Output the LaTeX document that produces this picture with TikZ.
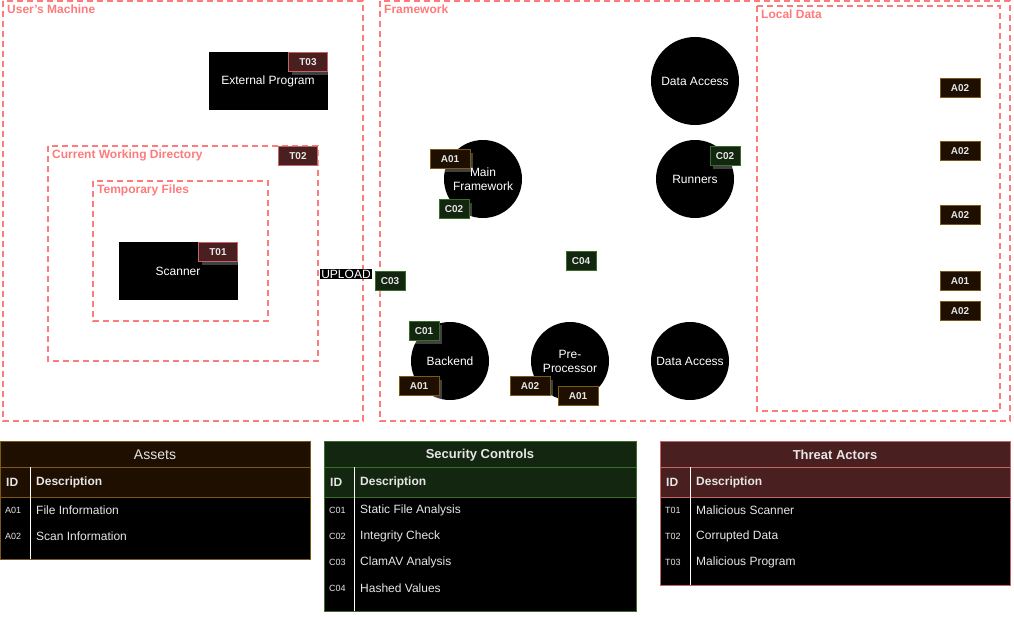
\documentclass[tikz,border=0pt]{standalone}
\usepackage{fontspec}
\setmainfont{Liberation Sans}
\usetikzlibrary{shadows}
\definecolor{zonered}{HTML}{FF7A7A}
\definecolor{assetfill}{HTML}{1E0F00}
\definecolor{assetline}{HTML}{7A5A14}
\definecolor{ctrlfill}{HTML}{13260F}
\definecolor{ctrlline}{HTML}{3A6E28}
\definecolor{threatfill}{HTML}{4A1F1F}
\definecolor{threatline}{HTML}{C46464}
\definecolor{lighttext}{HTML}{E6E6E6}
\begin{document}
\begin{tikzpicture}[x=1pt,y=-1pt,
	zone/.style={draw=zonered,line width=1.6pt,dash pattern=on 6pt off 4pt},
	zone_label/.style={anchor=north west,text=zonered,inner sep=0pt,font=\bfseries\fontsize{12}{14}\selectfont},
	proc_box/.style={rectangle,fill=black,text=white,minimum width=119pt,minimum height=58pt,inner sep=0pt,font=\fontsize{12}{14}\selectfont},
	proc_node/.style={circle,fill=black,text=white,minimum size=78pt,inner sep=0pt,align=center,font=\fontsize{12}{14}\selectfont},
	tag/.style={rectangle,line width=1pt,text=lighttext,minimum height=19pt,inner sep=0pt,font=\bfseries\fontsize{10}{12}\selectfont,drop shadow={fill=white,opacity=0.25,shadow xshift=3pt,shadow yshift=-3pt}},
	asset_tag/.style={tag,fill=assetfill,draw=assetline,minimum width=40pt},
	ctrl_tag/.style={tag,fill=ctrlfill,draw=ctrlline,minimum width=30pt},
	threat_tag/.style={tag,fill=threatfill,draw=threatline,minimum width=39pt},
	tbl_head/.style={text=lighttext,font=\fontsize{14}{16}\selectfont},
	tbl_col/.style={anchor=west,text=lighttext,inner sep=0pt,font=\bfseries\fontsize{12}{14}\selectfont},
	tbl_id/.style={anchor=west,text=lighttext,inner sep=0pt,font=\fontsize{9}{11}\selectfont},
	tbl_desc/.style={anchor=west,text=lighttext,inner sep=0pt,font=\fontsize{12}{14}\selectfont}]
	\useasboundingbox (0,0) rectangle (1014,616);

	% zones
	\draw[zone] (3,1) rectangle (363,421);
	\node[zone_label] (users_machine) at (7,5) {User's Machine};
	\draw[zone] (380,1) rectangle (1010,421);
	\node[zone_label] (framework) at (384,5) {Framework};
	\draw[zone] (757,6) rectangle (1000,411);
	\node[zone_label] (local_data) at (761,10) {Local Data};
	\draw[zone] (48,146) rectangle (318,361);
	\node[zone_label] (cwd) at (52,150) {Current Working Directory};
	\draw[zone] (93,181) rectangle (268,321);
	\node[zone_label] (temp_files) at (97,185) {Temporary Files};

	% user's machine
	\node[proc_box] (external_program) at (268,81) {External Program};
	\node[proc_box] (scanner) at (178,271) {Scanner};
	\node[threat_tag] (t03) at (308,62) {T03};
	\node[threat_tag] (t02) at (298,156) {T02};
	\node[threat_tag] (t01) at (218,252) {T01};
	\node[fill=black,text=white,inner sep=1pt,font=\fontsize{12}{14}\selectfont] (upload) at (346,274) {UPLOAD};
	\node[ctrl_tag] (c03) at (390,281) {C03};

	% framework
	\node[proc_node,minimum size=88pt] (data_access_top) at (695,81) {Data Access};
	\node[proc_node] (main_framework) at (483,179) {Main\\Framework};
	\node[proc_node] (runners) at (695,179) {Runners};
	\node[proc_node] (backend) at (450,361) {Backend};
	\node[proc_node] (pre_processor) at (570,361) {Pre-\\Processor};
	\node[proc_node] (data_access_bottom) at (690,361) {Data Access};

	\node[asset_tag] (main_a01) at (450,159) {A01};
	\node[ctrl_tag] (main_c02) at (454,209) {C02};
	\node[ctrl_tag] (runners_c02) at (725,156) {C02};
	\node[ctrl_tag] (c04) at (581,261) {C04};
	\node[ctrl_tag] (backend_c01) at (424,331) {C01};
	\node[asset_tag] (backend_a01) at (419,386) {A01};
	\node[asset_tag] (pre_a02) at (530,386) {A02};
	\node[asset_tag] (pre_a01) at (578,396) {A01};

	% local data
	\node[asset_tag] (local_a02_1) at (960,88) {A02};
	\node[asset_tag] (local_a02_2) at (960,151) {A02};
	\node[asset_tag] (local_a02_3) at (960,215) {A02};
	\node[asset_tag] (local_a01) at (960,281) {A01};
	\node[asset_tag] (local_a02_4) at (960,311) {A02};

	% assets table
	\fill[assetfill] (0,441) rectangle (310,497);
	\fill[black] (0,497) rectangle (310,559);
	\draw[assetline] (0,467) -- (310,467);
	\draw[assetline] (0,497) -- (310,497);
	\draw[white] (30,467) -- (30,559);
	\draw[assetline,line width=1pt] (0,441) rectangle (310,559);
	\node[tbl_head] (assets_head) at (155,455) {Assets};
	\node[tbl_col] (assets_id) at (6,482) {ID};
	\node[tbl_col] (assets_desc) at (36,482) {Description};
	\node[tbl_id] (a01_id) at (5,510) {A01};
	\node[tbl_desc] (a01_desc) at (36,510) {File Information};
	\node[tbl_id] (a02_id) at (5,536) {A02};
	\node[tbl_desc] (a02_desc) at (36,536) {Scan Information};

	% security controls table
	\fill[ctrlfill] (324,441) rectangle (636,497);
	\fill[black] (324,497) rectangle (636,611);
	\draw[ctrlline] (324,467) -- (636,467);
	\draw[ctrlline] (324,497) -- (636,497);
	\draw[white] (354,467) -- (354,611);
	\draw[ctrlline,line width=1pt] (324,441) rectangle (636,611);
	\node[tbl_head,font=\bfseries\fontsize{13}{15}\selectfont] (ctrl_head) at (480,455) {Security Controls};
	\node[tbl_col] (ctrl_id) at (330,482) {ID};
	\node[tbl_col] (ctrl_desc) at (360,482) {Description};
	\node[tbl_id] (c01_id) at (329,510) {C01};
	\node[tbl_desc] (c01_desc) at (360,510) {Static File Analysis};
	\node[tbl_id] (c02_id) at (329,536) {C02};
	\node[tbl_desc] (c02_desc) at (360,536) {Integrity Check};
	\node[tbl_id] (c03_id) at (329,562) {C03};
	\node[tbl_desc] (c03_desc) at (360,562) {ClamAV Analysis};
	\node[tbl_id] (c04_id) at (329,588) {C04};
	\node[tbl_desc] (c04_desc) at (360,588) {Hashed Values};

	% threat actors table
	\fill[threatfill] (660,441) rectangle (1010,497);
	\fill[black] (660,497) rectangle (1010,585);
	\draw[threatline] (660,467) -- (1010,467);
	\draw[threatline] (660,497) -- (1010,497);
	\draw[white] (690,467) -- (690,585);
	\draw[threatline,line width=1pt] (660,441) rectangle (1010,585);
	\node[tbl_head,font=\bfseries\fontsize{13}{15}\selectfont] (threat_head) at (835,455) {Threat Actors};
	\node[tbl_col] (threat_id) at (666,482) {ID};
	\node[tbl_col] (threat_desc) at (696,482) {Description};
	\node[tbl_id] (t01_id) at (665,510) {T01};
	\node[tbl_desc] (t01_desc) at (696,510) {Malicious Scanner};
	\node[tbl_id] (t02_id) at (665,536) {T02};
	\node[tbl_desc] (t02_desc) at (696,536) {Corrupted Data};
	\node[tbl_id] (t03_id) at (665,562) {T03};
	\node[tbl_desc] (t03_desc) at (696,562) {Malicious Program};
\end{tikzpicture}
\end{document}
